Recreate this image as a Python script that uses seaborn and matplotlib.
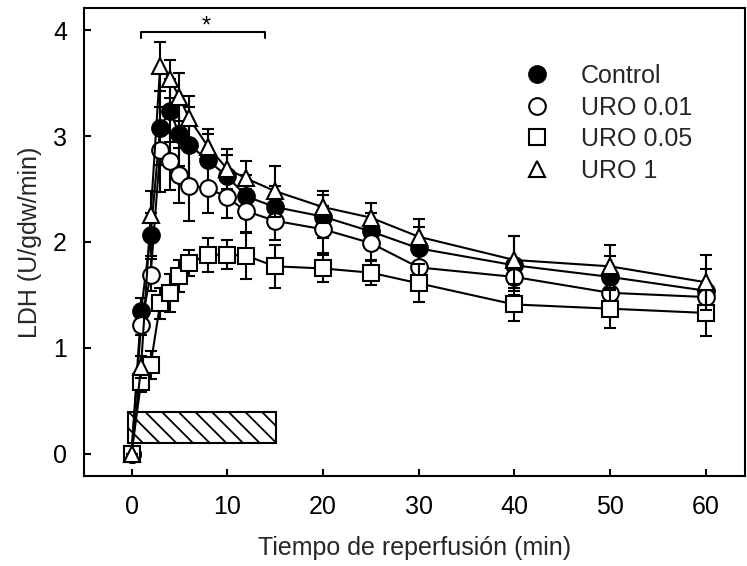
import numpy as np
import pandas as pd
import matplotlib
matplotlib.use("Agg")
import matplotlib.pyplot as plt
import seaborn as sns
from matplotlib.lines import Line2D

# ---- data ----
time_min = [0, 1, 2, 3, 4, 5, 6, 8, 10, 12, 15, 20, 25, 30, 40, 50, 60]

control = [0.0, 1.35, 2.07, 3.08, 3.24, 3.02, 2.92, 2.77, 2.62, 2.43, 2.33, 2.24, 2.10, 1.94, 1.78, 1.67, 1.54]
control_err = [0.0, 0.12, 0.20, 0.35, 0.30, 0.30, 0.35, 0.25, 0.20, 0.20, 0.20, 0.20, 0.17, 0.20, 0.28, 0.20, 0.20]

uro001 = [0.0, 1.22, 1.69, 2.87, 2.76, 2.63, 2.53, 2.51, 2.42, 2.29, 2.20, 2.12, 1.99, 1.76, 1.67, 1.52, 1.48]
uro001_err = [0.0, 0.10, 0.15, 0.40, 0.27, 0.26, 0.33, 0.24, 0.19, 0.21, 0.18, 0.22, 0.17, 0.12, 0.13, 0.12, 0.12]

uro005 = [0.0, 0.68, 0.84, 1.42, 1.52, 1.68, 1.80, 1.88, 1.88, 1.87, 1.77, 1.75, 1.71, 1.61, 1.41, 1.37, 1.33]
uro005_err = [0.0, 0.10, 0.13, 0.15, 0.18, 0.15, 0.12, 0.16, 0.14, 0.22, 0.20, 0.13, 0.12, 0.18, 0.16, 0.18, 0.22]

uro1 = [0.0, 0.82, 2.25, 3.66, 3.54, 3.37, 3.17, 2.90, 2.69, 2.60, 2.48, 2.33, 2.23, 2.05, 1.83, 1.77, 1.62]
uro1_err = [0.0, 0.10, 0.23, 0.23, 0.18, 0.23, 0.21, 0.17, 0.19, 0.16, 0.24, 0.15, 0.14, 0.17, 0.23, 0.20, 0.26]

series_names = ["Control", "URO 0.01", "URO 0.05", "URO 1"]
series_means = [control, uro001, uro005, uro1]
series_errs = [control_err, uro001_err, uro005_err, uro1_err]
series_markers = ["o", "o", "s", "^"]
series_faces = ["black", "white", "white", "white"]

perfusion_window = [0, 15]      # hatched bar (min)
signif_span = [1, 14]           # bracket with asterisk (min)

x_ticks = [0, 10, 20, 30, 40, 50, 60]
y_ticks = [0, 1, 2, 3, 4]

# ---- build long table ----
frames = []
for name, m, e in zip(series_names, series_means, series_errs):
    frames.append(pd.DataFrame({"time": time_min, "ldh": m, "err": e, "group": name}))
df = pd.concat(frames, ignore_index=True)

# ---- style ----
sns.set_style("ticks")
plt.rcParams["font.family"] = ["Liberation Sans", "DejaVu Sans"]
plt.rcParams["hatch.linewidth"] = 1.3

fig, ax = plt.subplots(figsize=(7.47, 5.66), dpi=100)
fig.subplots_adjust(left=0.112, right=0.997, bottom=0.159, top=0.986)

for i, (name, mk, fc) in enumerate(zip(series_names, series_markers, series_faces)):
    sub = df[df["group"] == name]
    ax.errorbar(sub["time"], sub["ldh"], yerr=sub["err"], fmt="none", ecolor="black",
                elinewidth=1.5, capsize=4.5, capthick=1.5, zorder=3 + 2 * i)
    sns.lineplot(data=sub, x="time", y="ldh", ax=ax, color="black", linewidth=1.5,
                 marker=mk, markersize=12, markerfacecolor=fc, markeredgecolor="black",
                 markeredgewidth=1.5, errorbar=None, legend=False, zorder=4 + 2 * i)

# hatched perfusion bar
ax.bar(x=perfusion_window[0] - 0.4, height=0.29,
       width=perfusion_window[1] - perfusion_window[0] + 0.5,
       bottom=0.1, align="edge", facecolor="white", edgecolor="black",
       linewidth=1.5, hatch="\\\\", zorder=2)

# significance bracket
ax.plot([signif_span[0], signif_span[0], signif_span[1], signif_span[1]],
        [3.93, 3.98, 3.98, 3.93], color="black", linewidth=1.5, zorder=12)
ax.text((signif_span[0] + signif_span[1]) / 2 + 0.3, 4.03, "*", ha="center", va="center",
        fontsize=17, color="black")

ax.set_xlim(-5, 64.1)
ax.set_ylim(-0.21, 4.21)
ax.set_xticks(x_ticks)
ax.set_yticks(y_ticks)
ax.set_xticklabels([str(t) for t in x_ticks])
ax.set_yticklabels([str(t) for t in y_ticks])

for sp in ax.spines.values():
    sp.set_visible(True)
    sp.set_linewidth(1.5)
    sp.set_color("black")

ax.tick_params(axis="x", direction="in", length=5, width=1.5, labelsize=18, pad=14, colors="black")
ax.tick_params(axis="y", direction="in", length=5, width=1.5, labelsize=18, pad=12, colors="black")

ax.set_xlabel("Tiempo de reperfusión (min)", fontsize=18, labelpad=12)
ax.set_ylabel("LDH (U/gdw/min)", fontsize=18, labelpad=8)

handles = [Line2D([], [], linestyle="none", marker=mk, markersize=12, markerfacecolor=fc,
                  markeredgecolor="black", markeredgewidth=1.5)
           for mk, fc in zip(series_markers, series_faces)]
ax.legend(handles, series_names, loc="upper left", bbox_to_anchor=(0.667, 0.88),
          frameon=False, fontsize=18, handlelength=1.0, handletextpad=1.25,
          labelspacing=0.3, borderpad=0, borderaxespad=0)

fig.savefig("out.png", dpi=100)
